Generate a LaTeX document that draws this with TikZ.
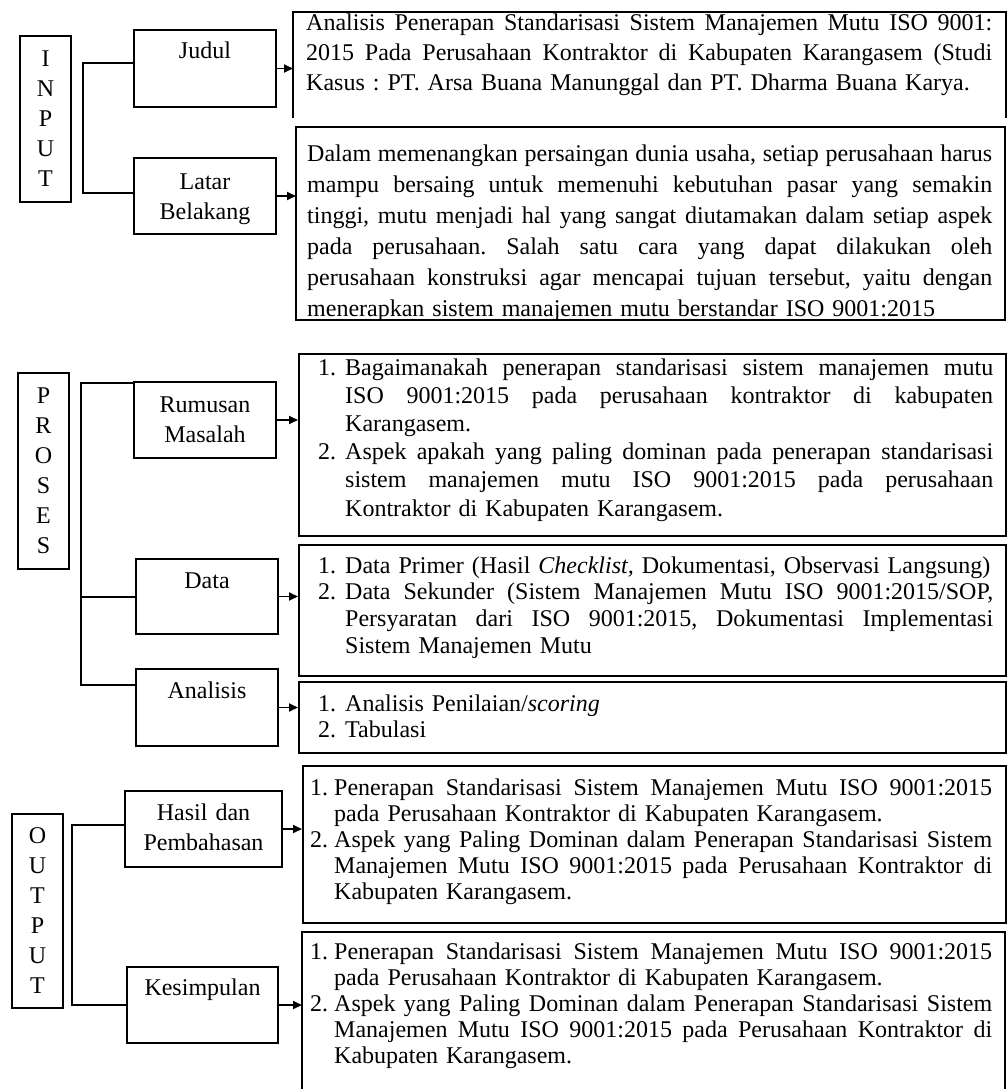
\documentclass[tikz,border=0pt]{standalone}
\usepackage{fontspec}
\setmainfont{Liberation Serif}
\usetikzlibrary{arrows.meta}
\frenchspacing
\newlength\numw
\newlength\tw
\newcommand\sk{\spaceskip=6pt plus 40pt minus 2.5pt\relax}
\newcommand\jl[1]{\leavevmode\hbox to \tw{\sk #1}\par}
\newcommand\lastl[1]{\leavevmode #1\par}
\newcommand\itj[2]{\leavevmode\hbox to \numw{#1\hss}\hbox to \dimexpr\tw-\numw\relax{\sk #2}\par}
\newcommand\itl[2]{\leavevmode\hbox to \numw{#1\hss}#2\par}
\tikzset{
  box/.style={draw, line width=2pt, inner sep=0pt, anchor=north west},
  frame/.style={inner sep=0pt, anchor=north west},
  lbl/.style={font=\fontsize{24}{30}\selectfont, text width=170pt, align=center, inner sep=0pt, anchor=base},
  letters/.style={box, minimum width=51pt, align=center, font=\fontsize{24}{30}\selectfont},
  txt/.style={inner sep=0pt, anchor=base west},
  arr/.style={line width=1.8pt, -{Triangle[length=9pt,width=8pt]}},
  ln/.style={line width=1.8pt},
  tbox/.style={line width=2pt},
}
\begin{document}
\begin{tikzpicture}[x=1pt,y=-1pt]
\useasboundingbox[fill=white] (0,0) rectangle (1008,1089);

% ---------------- INPUT ----------------
\node[letters, minimum height=166pt] (input) at (19,35) {I\\N\\P\\U\\T};
\node[box, minimum width=142pt, minimum height=77pt] (judul) at (133,29) {};
\node[lbl] (judulT) at ([yshift=-30pt]judul.north) {Judul};
\node[box, minimum width=142pt, minimum height=76pt] (latar) at (133,157) {};
\node[lbl] (latarT) at ([yshift=-32pt]latar.north) {Latar\\Belakang};

\node[frame, minimum width=713pt, minimum height=106pt] (jt) at (293,12) {};
\draw[tbox] (jt.south west) |- (jt.north east) -- (jt.south east);
\setlength\tw{686pt}
\node[txt, text width=686pt, font=\fontsize{24}{30}\selectfont] (jtx) at (306,31) {\jl{Analisis Penerapan Standarisasi Sistem Manajemen Mutu ISO 9001:}\jl{2015 Pada Perusahaan Kontraktor di Kabupaten Karangasem (Studi}\lastl{Kasus : PT. Arsa Buana Manunggal dan PT. Dharma Buana Karya.}};

\node[frame, minimum width=709pt, minimum height=193pt] (lt) at (296,127) {};
\setlength\tw{685pt}
\begin{scope}
\clip (lt.north west) rectangle (lt.south east);
\node[txt, text width=685pt, font=\fontsize{24}{31}\selectfont] (ltx) at (307,161) {\jl{Dalam memenangkan persaingan dunia usaha, setiap perusahaan harus}\jl{mampu bersaing untuk memenuhi kebutuhan pasar yang semakin}\jl{tinggi, mutu menjadi hal yang sangat diutamakan dalam setiap aspek}\jl{pada perusahaan. Salah satu cara yang dapat dilakukan oleh}\jl{perusahaan konstruksi agar mencapai tujuan tersebut, yaitu dengan}\lastl{menerapkan sistem manajemen mutu berstandar ISO 9001:2015}};
\end{scope}
\draw[tbox] (lt.north west) rectangle (lt.south east);

\coordinate (ib1) at (83,63);
\coordinate (ib2) at (83,193);
\draw[ln] (judul.west |- ib1) -- (ib1) -- (ib2) -- (latar.west |- ib2);
\draw[arr] (judul.east) -- (judul.east -| jt.west);
\draw[arr] (latar.east) -- (latar.east -| lt.west);

% ---------------- PROSES ----------------
\node[letters, minimum height=196pt] (proses) at (17,372) {P\\R\\O\\S\\E\\S};
\node[box, minimum width=142pt, minimum height=76pt] (rumusan) at (133,381) {};
\node[lbl] (rumusanT) at ([yshift=-31pt]rumusan.north) {Rumusan\\Masalah};
\node[box, minimum width=142pt, minimum height=75pt] (data) at (135,558) {};
\node[lbl] (dataT) at ([yshift=-30pt]data.north) {Data};
\node[box, minimum width=142pt, minimum height=77pt] (analisis) at (135,668) {};
\node[lbl] (analisisT) at ([yshift=-30pt]analisis.north) {Analisis};

\setlength\numw{27pt}
\setlength\tw{675pt}
\node[box, minimum width=707pt, minimum height=182pt] (rt) at (298,353) {};
\node[txt, text width=675pt, font=\fontsize{24}{28.2}\selectfont] (rtx) at (318,375) {\itj{1.}{Bagaimanakah penerapan standarisasi sistem manajemen mutu}\itj{}{ISO 9001:2015 pada perusahaan kontraktor di kabupaten}\itl{}{Karangasem.}\itj{2.}{Aspek apakah yang paling dominan pada penerapan standarisasi}\itj{}{sistem manajemen mutu ISO 9001:2015 pada perusahaan}\itl{}{Kontraktor di Kabupaten Karangasem.}};

\node[box, minimum width=707pt, minimum height=131pt] (dt) at (298,544) {};
\node[txt, text width=675pt, font=\fontsize{24}{26.7}\selectfont] (dtx) at (318,573) {\itl{1.}{Data Primer (Hasil \textit{Checklist,} Dokumentasi, Observasi Langsung)}\itj{2.}{Data Sekunder (Sistem Manajemen Mutu ISO 9001:2015/SOP,}\itj{}{Persyaratan dari ISO 9001:2015, Dokumentasi Implementasi}\itl{}{Sistem Manajemen Mutu}};

\node[box, minimum width=707pt, minimum height=71pt] (at) at (298,681) {};
\node[txt, text width=675pt, font=\fontsize{24}{26}\selectfont] (atx) at (318,711) {\itl{1.}{Analisis Penilaian/\textit{scoring}}\itl{2.}{Tabulasi}};

\coordinate (pb1) at (81,383);
\coordinate (pb2) at (81,597);
\coordinate (pb3) at (81,685);
\draw[ln] (rumusan.west |- pb1) -- (pb1) -- (pb3) -- (analisis.west |- pb3);
\draw[ln] (pb2) -- (data.west |- pb2);
\draw[arr] (rumusan.east) -- (rumusan.east -| rt.west);
\draw[arr] (data.east) -- (data.east -| dt.west);
\draw[arr] (analisis.east) -- (analisis.east -| at.west);

% ---------------- OUTPUT ----------------
\node[letters, minimum height=194pt] (output) at (11,813) {O\\U\\T\\P\\U\\T};
\node[box, minimum width=157pt, minimum height=76pt] (hasil) at (124,790) {};
\node[lbl] (hasilT) at ([yshift=-30pt]hasil.north) {Hasil dan\\Pembahasan};
\node[box, minimum width=151pt, minimum height=76pt] (kesimpulan) at (126,966) {};
\node[lbl] (kesimpulanT) at ([yshift=-29pt]kesimpulan.north) {Kesimpulan};

\setlength\numw{24pt}
\setlength\tw{682pt}
\node[box, minimum width=703pt, minimum height=157pt] (ht) at (302,765) {};
\node[txt, text width=682pt, font=\fontsize{24}{26}\selectfont] (htx) at (310,795) {\itj{1.}{Penerapan Standarisasi Sistem Manajemen Mutu ISO 9001:2015}\itl{}{pada Perusahaan Kontraktor di Kabupaten Karangasem.}\itj{2.}{Aspek yang Paling Dominan dalam Penerapan Standarisasi Sistem}\itj{}{Manajemen Mutu ISO 9001:2015 pada Perusahaan Kontraktor di}\itl{}{Kabupaten Karangasem.}};

\node[frame, minimum width=703pt, minimum height=157pt] (kt) at (302,932) {};
\draw[tbox] (kt.south west) |- (kt.north east) -- (kt.south east);
\node[txt, text width=682pt, font=\fontsize{24}{26}\selectfont] (ktx) at (310,959) {\itj{1.}{Penerapan Standarisasi Sistem Manajemen Mutu ISO 9001:2015}\itl{}{pada Perusahaan Kontraktor di Kabupaten Karangasem.}\itj{2.}{Aspek yang Paling Dominan dalam Penerapan Standarisasi Sistem}\itj{}{Manajemen Mutu ISO 9001:2015 pada Perusahaan Kontraktor di}\itl{}{Kabupaten Karangasem.}};

\coordinate (ob1) at (72,825);
\coordinate (ob2) at (72,1005);
\draw[ln] (hasil.west |- ob1) -- (ob1) -- (ob2) -- (kesimpulan.west |- ob2);
\draw[arr] (hasil.east) -- (hasil.east -| ht.west);
\draw[arr] (kesimpulan.east) -- (kesimpulan.east -| kt.west);
\end{tikzpicture}
\end{document}
